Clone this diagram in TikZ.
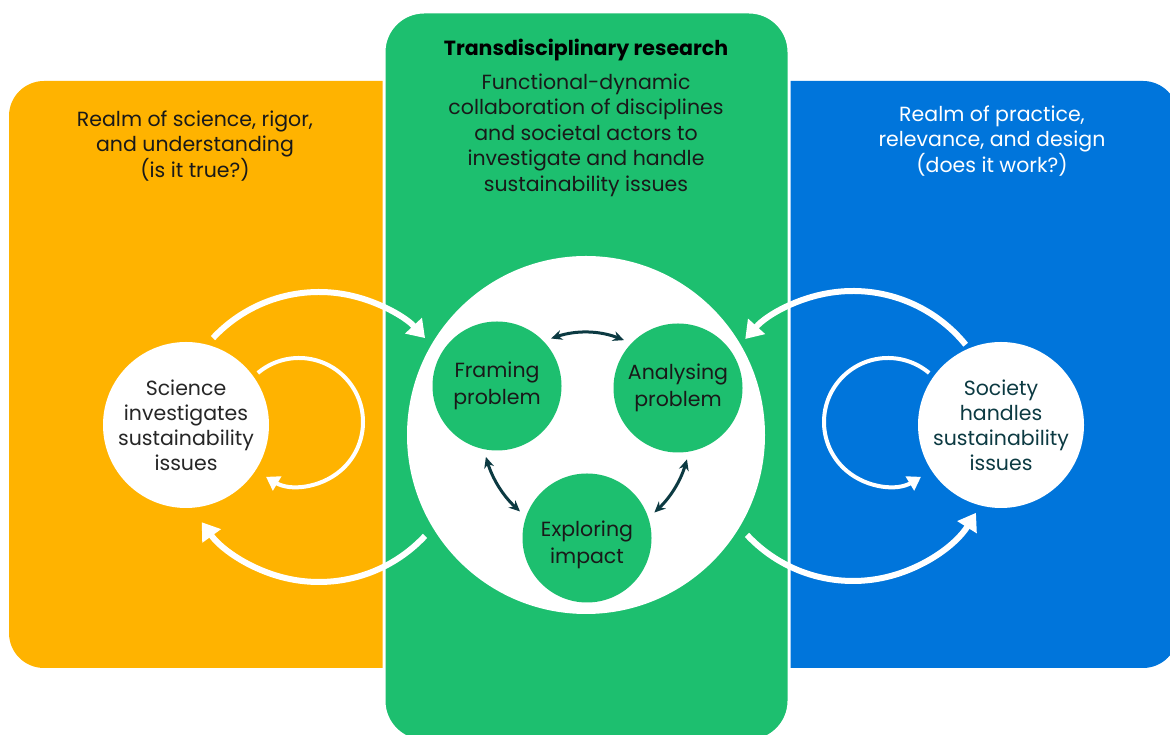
\documentclass[tikz,border=0pt]{standalone}
\usepackage{fontspec}
\setmainfont{Poppins}
\usetikzlibrary{arrows.meta}

\definecolor{realmorange}{RGB}{255,179,0}
\definecolor{tdgreen}{RGB}{29,191,111}
\definecolor{realmblue}{RGB}{0,117,219}
\definecolor{darkteal}{RGB}{12,58,66}

\tikzset{
  realm/.style={rounded corners=35pt},
  realmtext/.style={align=center,font=\fontsize{20.5}{25.5}\selectfont},
  actor/.style={circle,fill=white,minimum size=166pt,inner sep=0pt,align=center,font=\fontsize{20.5}{25}\selectfont},
  phase/.style={circle,fill=tdgreen,minimum size=129pt,inner sep=0pt,align=center,text=black!90,font=\fontsize{20.5}{27}\selectfont},
  bigloop/.style={white,line width=6pt,-{Triangle[width=22pt,length=17pt]}},
  selfloop/.style={white,line width=4pt,-{Triangle[width=16pt,length=13pt]}},
  link/.style={darkteal,line width=3pt,{Stealth[length=11pt,width=10pt]}-{Stealth[length=11pt,width=10pt]},shorten <=8pt,shorten >=8pt}
}

\begin{document}
\begin{tikzpicture}[x=1pt,y=1pt]
        \useasboundingbox (0,0) rectangle (1170,735);
        \clip (0,0) rectangle (1170,735);

        % Panels
        \fill[realm,realmorange] (9,67) rectangle (420,654);
        \fill[realm,realmblue] (750,67) rectangle (1178,654);
        \filldraw[rounded corners=40pt,fill=tdgreen,draw=white,line width=3pt] (384,-6) rectangle (789,723);

        % Panel texts
        \node[realmtext,text=black!90] (scititle) at (195,589) {Realm of science, rigor,\\and understanding\\(is it true?)};
        \node[realmtext,font=\fontsize{20.5}{25}\selectfont\bfseries] (tdtitle) at (586,685) {Transdisciplinary research};
        \node[realmtext,text=black!90] (tdtext) at (586,600) {Functional-dynamic\\collaboration of disciplines\\and societal actors to\\investigate and handle\\sustainability issues};
        \node[realmtext,text=white] (soctitle) at (992,594) {Realm of practice,\\relevance, and design\\(does it work?)};

        % Big white circle and the three phases
        \node[circle,fill=white,minimum size=358pt] (big) at (586,300) {};
        \node[phase] (fr) at (497,349) {Framing\\problem};
        \node[phase] (an) at (678,347) {Analysing\\problem};
        \node[phase] (ex) at (587,197) {\rule{0pt}{29pt}Exploring\\impact};

        % Science and society
        \node[actor,text=black!85] (sci) at (186,310) {Science\\investigates\\sustainability\\issues};
        \node[actor,text=darkteal] (soc) at (1001,310) {Society\\handles\\sustainability\\issues};

        % Links between phases
        \draw[link] (fr.44) to[bend left=20] (an.136);
        \draw[link] (fr.-102) to[bend right=15] (ex.161);
        \draw[link] (an.-80) to[bend left=15] (ex.18);

        % Loops on the science side
        \coordinate (scic) at (319,298);
        \coordinate (scis) at (299,313);
        \draw[bigloop] ([shift={(137:145)}]scic) arc[start angle=137,end angle=43,radius=145];
        \draw[bigloop] ([shift={(-43:145)}]scic) arc[start angle=-43,end angle=-144,radius=145];
        \draw[selfloop] ([shift={(130:64)}]scis) arc[start angle=130,end angle=-121,radius=64];

        % Loops on the society side
        \coordinate (socc) at (853,299);
        \coordinate (socs) at (888,313);
        \draw[bigloop] ([shift={(39:145)}]socc) arc[start angle=39,end angle=138,radius=145];
        \draw[bigloop] ([shift={(223:145)}]socc) arc[start angle=223,end angle=328,radius=145];
        \draw[selfloop] ([shift={(50:64)}]socs) arc[start angle=50,end angle=301,radius=64];

    \end{tikzpicture}
\end{document}
